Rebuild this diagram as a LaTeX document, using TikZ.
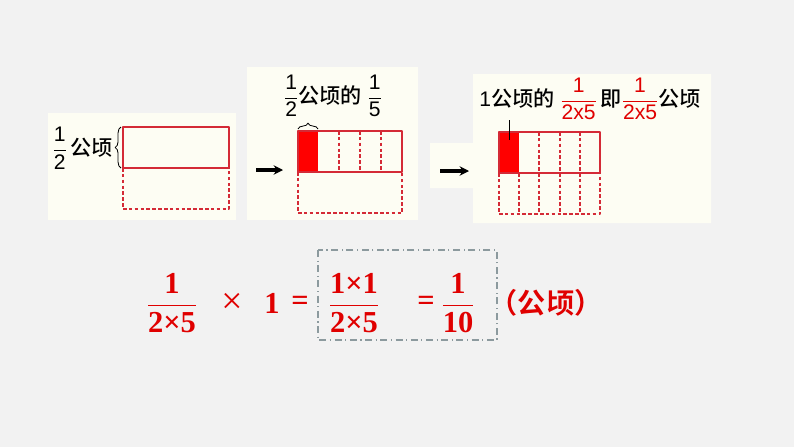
\documentclass[tikz,border=0pt]{standalone}
\usepackage{amsmath}
\usepackage{fontspec}
\setmainfont{Liberation Sans}
\newfontfamily\cjk{Noto Sans CJK SC Medium}
\newfontfamily\cjkb{Noto Sans CJK SC Bold}
\newfontfamily\shuzi{Liberation Serif}
\usetikzlibrary{decorations.pathreplacing, arrows.meta}
\definecolor{dise}{HTML}{F2F2F2}
\definecolor{mise}{HTML}{FDFDF3}
\definecolor{hong}{HTML}{FF0000}
\definecolor{zihong}{HTML}{E00000}
\definecolor{bian}{HTML}{D42A36}
\definecolor{huise}{HTML}{8C9A9E}
\newcommand{\fen}[2]{$\dfrac{\text{#1}}{\text{#2}}$}
\tikzset{
  kuai/.style={draw=bian, line width=0.9pt},
  xukuai/.style={draw=bian, line width=0.9pt, dash pattern=on 3pt off 2pt},
  jian/.style={-{Stealth[length=8pt, width=8pt]}, draw=black, line width=3pt},
  shang/.style={font=\fontsize{18}{21}\selectfont, inner sep=0pt},
  xia/.style={text=zihong, font=\fontsize{26}{30}\selectfont\shuzi\bfseries, inner sep=0pt},
  kuohao/.style={decorate, decoration={brace, amplitude=5pt}, line width=0.7pt}
}
\begin{document}
\begin{tikzpicture}[x=0.03cm, y=-0.03cm, line join=round, >=stealth]
  \fill[dise] (0,0) rectangle (794,447);
  % three cream panels
  \fill[mise] (48,113) rectangle (236,220);
  \fill[mise] (247,67) rectangle (418,220);
  \fill[mise] (430,143) rectangle (473,188) (473,74) rectangle (711,223);
  % panel 1: half hectare
  \draw[kuai] (123,127) rectangle (229,168);
  \draw[xukuai] (123,168) -- (123,209) -- (229,209) -- (229,168);
  \draw[kuohao] (121,168) -- (121,127);
  \node[shang, anchor=east] (biao1) at (113,148) {\fen{1}{2}\,{\cjk 公顷}};
  % panel 2: one fifth of it
  \coordinate (jw2) at (256,170); \coordinate (jt2) at (283,170);
  \draw[jian] (jw2) -- (jt2);
  \fill[hong] (298,131) rectangle (318,172);
  \draw[kuai] (298,131) rectangle (402,172);
  \foreach \x in {339,360,381} \draw[xukuai] (\x,131) -- (\x,172);
  \draw[xukuai] (298,172) -- (298,213) -- (402,213) -- (402,172);
  \draw[kuohao] (298,129) -- (318,129);
  \node[shang] (biao2) at (333,96) {\fen{1}{2}{\cjk 公顷的}\ \fen{1}{5}};
  % panel 3: one tenth of a hectare
  \coordinate (jw3) at (440,171); \coordinate (jt3) at (469,171);
  \draw[jian] (jw3) -- (jt3);
  \node[fill=hong, inner sep=0pt, minimum width=0.6cm, minimum height=1.23cm, anchor=north west] (hongge) at (499,132) {};
  \draw[kuai] (499,132) rectangle (600,173);
  \foreach \x in {539,560,580} \draw[xukuai] (\x,132) -- (\x,173);
  \foreach \x in {519,539,560,580} \draw[xukuai] (\x,173) -- (\x,214);
  \draw[xukuai] (499,173) -- (499,214) -- (600,214) -- (600,173);
  \node[shang] (biao3) at (590,99) {1{\cjk 公顷的}\ \textcolor{zihong}{\fen{1}{2x5}}\,{\cjk 即}\textcolor{zihong}{\fen{1}{2x5}}{\cjk 公顷}};
  \draw[line width=1pt] (biao3.south -| hongge.north) -- ([yshift=-7pt]hongge.north);
  % equation below
  \node[xia] (f1) at (172,303) {\fen{1}{2×5}};
  \node[xia, font=\fontsize{32}{36}\selectfont\shuzi] (cheng) at (232,303) {×};
  \node[xia] (yi) at (272,303) {1};
  \node[xia] (deng1) at (300,303) {=};
  \node[xia] (f2) at (354,303) {\fen{1×1}{2×5}};
  \node[xia] (deng2) at (426,303) {=};
  \node[xia] (f3) at (458,303) {\fen{1}{10}};
  \node[xia, font=\fontsize{24}{28}\selectfont\cjkb] (danwei) at (546,303) {（公顷）};
  \draw[huise, line width=1.5pt, dash pattern=on 6pt off 3pt on 1pt off 3pt] (318,250) rectangle (497,340);
\end{tikzpicture}
\end{document}
